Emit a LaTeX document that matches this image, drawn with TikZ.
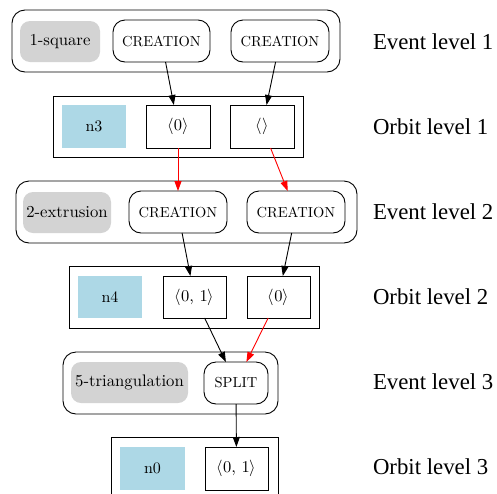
\documentclass[tikz,border=0pt]{standalone}
\usepackage{fontspec}
\usepackage{unicode-math}
\newfontfamily\lib{Liberation Serif}
\newfontfamily\cmten{lmroman10-regular}[Extension=.otf]
\usetikzlibrary{arrows.meta}
\definecolor{lblue}{HTML}{ADD8E6}
\definecolor{lgray}{HTML}{D3D3D3}
\begin{document}
\begin{tikzpicture}[x=1pt,y=-1pt,
 every node/.style={inner sep=0pt, outer sep=0pt, line width=0.9pt},
 cl/.style={draw, rounded corners=13pt, minimum height=62pt},
 orb/.style={draw, minimum height=61pt},
 evt/.style={draw, rounded corners=12pt, minimum height=42pt, font=\cmten\fontsize{14.5}{17}\selectfont},
 lab/.style={fill=lgray, rounded corners=10pt, minimum height=41pt, font=\cmten\fontsize{16.7}{20}\selectfont},
 nid/.style={fill=lblue, minimum width=64pt, minimum height=43pt, font=\cmten\fontsize{16}{19}\selectfont},
 ob/.style={draw, minimum width=64pt, minimum height=43pt, font=\cmten\fontsize{16.5}{19}\selectfont},
 lvl/.style={anchor=west, font=\lib\fontsize{22.8}{27}\selectfont},
 arr/.style={-{Triangle[length=10pt,width=7pt]}, line width=0.9pt},
 rarr/.style={arr, red}]
\useasboundingbox (0,0) rectangle (497,493);
\clip (0,0) rectangle (497,493);
% clusters
\node[cl, minimum width=328pt] (E1) at (176,41) {};
\node[orb, minimum width=250pt] (O1) at (178,126.5) {};
\node[cl, minimum width=341pt] (E2) at (186.5,212) {};
\node[orb, minimum width=250pt, minimum height=62pt] (O2) at (194,297) {};
\node[cl, minimum width=215pt] (E3) at (170.5,383) {};
\node[orb, minimum width=167pt, minimum height=64pt] (O3) at (194.5,469) {};
% level 1
\node[lab, minimum width=80pt] (sq) at (60,41.5) {1-square};
\node[evt, minimum width=97pt] (c1) at (161.5,41) {CREATION};
\node[evt, minimum width=98pt] (c2) at (280,41) {CREATION};
\node[nid] (n3) at (94,126.5) {n3};
\node[ob] (o1a) at (178,126.5) {$\langle$0$\rangle$};
\node[ob] (o1b) at (262,126.5) {$\langle\rangle$};
% level 2
\node[lab, minimum width=88pt] (ex) at (67,212.5) {2-extrusion};
\node[evt, minimum width=98pt] (c3) at (178,212) {CREATION};
\node[evt, minimum width=98pt] (c4) at (296,212) {CREATION};
\node[nid, minimum height=42pt] (n4) at (110,297) {n4};
\node[ob, minimum width=63pt, minimum height=42pt] (o2a) at (194.5,297) {$\langle$0, 1$\rangle$};
\node[ob, minimum width=63pt, minimum height=42pt] (o2b) at (278.5,297) {$\langle$0$\rangle$};
% level 3
\node[lab, minimum width=117pt] (tr) at (129.5,382.5) {5-triangulation};
\node[evt, minimum width=64pt] (sp) at (236,383) {SPLIT};
\node[nid, minimum width=65pt] (n0) at (152.5,468.5) {n0};
\node[ob, minimum width=63pt] (o3) at (236.5,468.5) {$\langle$0, 1$\rangle$};
% level labels
\node[lvl] (L1) at (373,42) {Event level 1};
\node[lvl] (L2) at (373,127) {Orbit level 1};
\node[lvl] (L3) at (373,212) {Event level 2};
\node[lvl] (L4) at (373,297) {Orbit level 2};
\node[lvl] (L5) at (373,382) {Event level 3};
\node[lvl] (L6) at (373,467) {Orbit level 3};
% connectors
\draw[arr] (c1) -- (o1a);
\draw[arr] (c2) -- (o1b);
\draw[rarr] (o1a) -- (c3);
\draw[rarr] (o1b) -- (c4);
\draw[arr] (c3) -- (o2a);
\draw[arr] (c4) -- (o2b);
\draw[arr] (o2a) -- (sp);
\draw[rarr] (o2b) -- (sp);
\draw[arr] (sp) -- (o3);
\end{tikzpicture}
\end{document}
